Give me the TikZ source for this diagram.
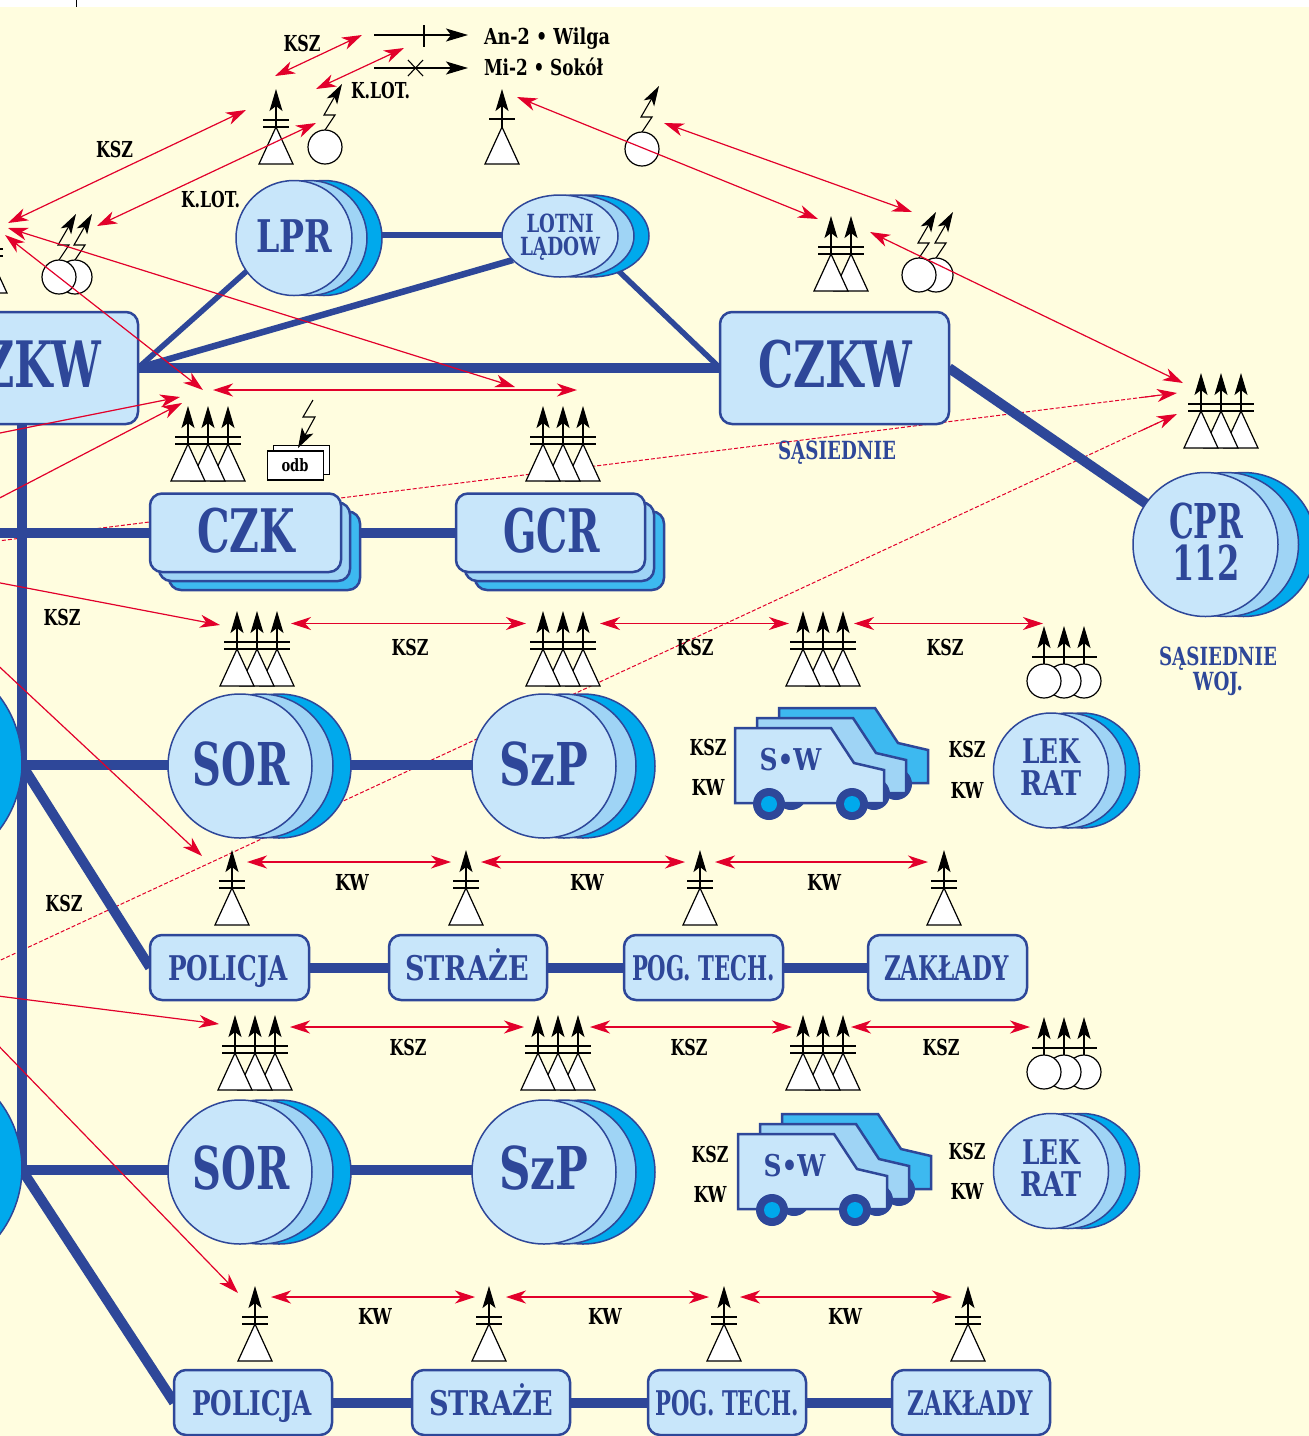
\documentclass[tikz,border=0pt]{standalone}
\usepackage{fontspec}
\usepackage{graphicx}
\usetikzlibrary{arrows.meta,shapes.geometric,calc}
\newfontfamily\slab{DejaVu Serif}
\definecolor{paper}{HTML}{FFFDDF}
\definecolor{navy}{HTML}{2E4799}
\definecolor{paleb}{HTML}{C8E6FA}
\definecolor{midb}{HTML}{9FD4F5}
\definecolor{deepb}{HTML}{00A9EC}
\definecolor{cardb}{HTML}{3DB9F0}
\definecolor{redl}{HTML}{E2002B}
\pgfdeclarelayer{back}\pgfdeclarelayer{links}
\pgfsetlayers{back,links,main}
\tikzset{
  link/.style={draw=navy,line width=10pt},
  linkthin/.style={draw=navy,line width=5.5pt},
  rtwo/.style={draw=redl,line width=1.2pt,{Stealth[length=20pt,width=13pt,inset=6pt]}-{Stealth[length=20pt,width=13pt,inset=6pt]}},
  rone/.style={draw=redl,line width=1.2pt,-{Stealth[length=20pt,width=13pt,inset=6pt]}},
  rdash/.style={draw=redl,line width=1pt,dash pattern=on 4pt off 2pt},
  rtip/.style={draw=redl,line width=1.1pt,-{Stealth[length=20pt,width=13pt,inset=6pt]}},
  sym/.style={draw=black,fill=white,line width=1.2pt,line join=miter},
  mast/.style={draw=black,line width=1.1pt,-{Stealth[length=22pt,width=13pt,inset=5pt]}},
  bar/.style={draw=black,line width=1.1pt},
  discfront/.style={ellipse,draw=navy,fill=paleb,line width=1.5pt,inner sep=0,outer sep=0},
  boxfront/.style={rectangle,draw=navy,fill=paleb,line width=2.5pt,rounded corners=12pt,inner sep=0,outer sep=0},
  lbl/.style={inner sep=0,outer sep=0,anchor=base},
}
% name, colour, x, baseline, size, width, text
\newcommand{\lab}[7]{\node[lbl,text=#2] (#1) at (#3,#4) {\resizebox{#6pt}{\height}{\fontsize{#5pt}{#5pt}\selectfont\slab\bfseries #7}};}
% name cx cy rx ry d1 d2
\newcommand{\disc}[7]{%
  \draw[draw=navy,fill=deepb,line width=1.5pt] (#2+#7,#3) ellipse [x radius=#4,y radius=#5];
  \draw[draw=navy,fill=midb,line width=1.5pt] (#2+#6,#3) ellipse [x radius=#4,y radius=#5];
  \node[discfront,minimum width={2*#4*1pt},minimum height={2*#5*1pt}] (#1) at (#2,#3) {};}
% name x1 y1 x2 y2
\newcommand{\rbox}[5]{\node[boxfront,minimum width={(#4-#2)*1pt},minimum height={(#5-#3)*1pt}] (#1) at ({(#2+#4)/2},{(#3+#5)/2}) {};}
\newcommand{\card}[5]{%
  \draw[draw=navy,fill=cardb,line width=2.5pt,rounded corners=12pt] (#2+19,#3+18) rectangle (#4+19,#5+18);
  \draw[draw=navy,fill=midb,line width=2.5pt,rounded corners=12pt] (#2+9,#3+9) rectangle (#4+9,#5+9);
  \rbox{#1}{#2}{#3}{#4}{#5}}
\newcommand{\tower}[2]{%
  \draw[sym] (#1-17,#2+75) -- (#1,#2+38) -- (#1+17,#2+75) -- cycle;
  \draw[mast] (#1,#2+38) -- (#1,#2);}
\newcommand{\bars}[3]{\draw[bar] (#1-13,#3+31) -- (#2+13,#3+31); \draw[bar] (#1-13,#3+38) -- (#2+13,#3+38);}
\newcommand{\towerA}[2]{\tower{#1}{#2}\bars{#1}{#1}{#2}}
\newcommand{\towerB}[2]{\tower{#1}{#2}\draw[bar] (#1-13,#2+30) -- (#1+13,#2+30);}
\newcommand{\towerC}[2]{\tower{#1+40}{#2}\tower{#1+20}{#2}\tower{#1}{#2}\bars{#1}{#1+40}{#2}}
\newcommand{\ball}[2]{%
  \draw[sym] (#1,#2+55) circle [radius=17];
  \draw[mast] (#1,#2+38) -- (#1,#2);}
\newcommand{\ballC}[2]{\ball{#1+40}{#2}\ball{#1+20}{#2}\ball{#1}{#2}\draw[bar] (#1-12,#2+31) -- (#1+53,#2+31);}
\newcommand{\bolt}[2]{%
  \draw[sym] (#1,#2) ellipse [x radius=17,y radius=17];
  \draw[draw=black,line width=1.1pt,-{Stealth[length=20pt,width=12pt,inset=5pt]}] (#1,#2-17) -- (#1+10,#2-32) -- (#1-1,#2-32) -- (#1+17,#2-63);}
\newcommand{\trucklayer}[3]{%
  \draw[draw=navy,fill=#3,line width=2.5pt,line join=miter] (#1+735,#2+728) -- (#1+831,#2+728) -- (#1+854,#2+763) -- (#1+884,#2+770) -- (#1+884,#2+803) -- (#1+735,#2+803) -- cycle;}
\newcommand{\truckwheels}[2]{%
  \fill[navy] (#1+769,#2+804) circle [radius=16];
  \fill[navy] (#1+852,#2+804) circle [radius=16];}
\newcommand{\truck}[2]{%
  \trucklayer{#1+44}{#2-20}{cardb}\truckwheels{#1+44}{#2-20}
  \trucklayer{#1+22}{#2-10}{midb}\truckwheels{#1+22}{#2-10}
  \trucklayer{#1}{#2}{paleb}\truckwheels{#1}{#2}
  \fill[deepb] (#1+769,#2+804) circle [radius=8];
  \fill[deepb] (#1+852,#2+804) circle [radius=8];}
% two-headed red arrow between named ends
\newcommand{\RA}[5]{\coordinate (#1a) at (#2,#3); \coordinate (#1b) at (#4,#5); \draw[rtwo] (#1a) -- (#1b);}
\newcommand{\RO}[5]{\coordinate (#1a) at (#2,#3); \coordinate (#1b) at (#4,#5); \draw[rone] (#1a) -- (#1b);}
\begin{document}
\begin{tikzpicture}[x=1pt,y=-1pt]
\useasboundingbox (0,0) rectangle (1309,1436);
\begin{pgfonlayer}{back}
  \fill[white] (0,0) rectangle (1309,1436);
  \fill[paper] (0,7) rectangle (1309,1436);
  \draw[black,line width=1pt] (76,0) -- (76,7);
\end{pgfonlayer}
\clip (0,0) rectangle (1309,1436);

% ---------- hubs
\node[discfront,fill=deepb,minimum width=220pt,minimum height=220pt] (hubA) at (-88,763) {};
\node[discfront,fill=deepb,minimum width=220pt,minimum height=220pt] (hubB) at (-88,1168) {};
\disc{lpr}{294}{238}{58}{57.5}{15}{30}
\disc{lotni}{560}{236}{58}{41}{16}{31}
\disc{cpr}{1205.5}{544.5}{72.5}{72}{20.5}{38}
\disc{sorA}{240}{766}{72}{72}{21}{39}
\disc{szpA}{544}{766}{72}{72}{20}{39}
\disc{lekA}{1051}{770.5}{57.5}{57.5}{17}{31}
\disc{sorB}{240}{1172}{72}{72}{21}{39}
\disc{szpB}{544}{1172}{72}{72}{20}{39}
\disc{lekB}{1051}{1171}{57.5}{57.5}{17}{31}
\rbox{czkwL}{-94}{312}{138}{424}
\rbox{czkwR}{720}{312}{949}{424}
\card{czk}{150}{493.5}{341}{572}
\card{gcr}{456}{493.5}{645}{572}
\rbox{polA}{150}{935}{309}{1000}
\rbox{strA}{389}{935}{547}{1000}
\rbox{pogA}{624}{935}{783}{1000}
\rbox{zakA}{868}{935}{1027}{1000}
\rbox{polB}{174}{1370}{332}{1435}
\rbox{strB}{412}{1370}{570}{1435}
\rbox{pogB}{648}{1370}{806}{1435}
\rbox{zakB}{892}{1370}{1050}{1435}

% ---------- links, under the nodes
\begin{pgfonlayer}{links}
  \coordinate (dashAs) at (-10,542); \coordinate (dashAe) at (1177,393);
  \coordinate (dashBs) at (-10,965); \coordinate (dashBe) at (1177,414);
  \draw[rdash] (dashAs) -- ($(dashAs)!0.985!(dashAe)$);
  \draw[rdash] (dashBs) -- ($(dashBs)!0.985!(dashBe)$);
  \coordinate (jA) at (22,765); \coordinate (jB) at (22,1170); \coordinate (lft) at (-10,533); \coordinate (jT) at (294,235);
  \draw[link] (czkwL.south) -- (jB);
  \draw[link] (jA) -- (jA -| sorA);
  \draw[link] (jA -| sorA) -- (jA -| szpA);
  \draw[link] (jB) -- (jB -| sorB);
  \draw[link] (jB -| sorB) -- (jB -| szpB);
  \draw[link] (jA) -- (polA.west);
  \draw[link] (jB) -- (polB.west);
  \draw[link] (lft) -- (lft -| czk);
  \draw[link] (lft -| czk) -- (lft -| gcr);
  \draw[link] (czkwL.east) -- (czkwR.west);
  \draw[link] (czkwR.east) -- (cpr);
  \draw[link] (polA) -- (strA); \draw[link] (strA) -- (pogA); \draw[link] (pogA) -- (zakA);
  \draw[link] (polB) -- (strB); \draw[link] (strB) -- (pogB); \draw[link] (pogB) -- (zakB);
  \draw[linkthin] (jT) -- (jT -| lotni);
  \draw[linkthin] (lpr.215) -- (czkwL.east);
  \draw[linkthin,line width=6.5pt] (lotni.207) -- (czkwL.east);
  \draw[linkthin] (lotni.-27) -- (czkwR.west);
\end{pgfonlayer}

% ---------- symbols
\towerA{-10}{218}
\towerA{276}{89}
\towerB{502}{89}
\bolt{325}{147}
\bolt{642}{149}
\bolt{75}{277}\bolt{59}{277}
\bolt{936}{275}\bolt{919}{275}
\tower{851}{216}\tower{831}{216}\bars{831}{851}{216}
\towerC{1201}{373}
\towerC{188}{406}
\towerC{543}{406}
\towerC{237}{611}
\towerC{543}{611}
\towerC{803}{611}
\ballC{1044}{626}
\towerC{235}{1015}
\towerC{538}{1015}
\towerC{803}{1015}
\ballC{1044}{1017}
\towerA{232}{850}\towerA{466}{850}\towerA{700}{850}\towerA{944}{850}
\towerA{255}{1286}\towerA{489}{1286}\towerA{724}{1286}\towerA{968}{1286}

% odb
\draw[draw=black,fill=white,line width=1pt] (273.5,445) rectangle (329,474);
\node[rectangle,draw=black,fill=white,line width=1.2pt,inner sep=0,minimum width=56pt,minimum height=29pt] (odbbox) at (295.5,465.5) {};
\lab{odb}{black}{295}{471}{17}{27}{odb}
\draw[draw=black,line width=1.1pt,-{Stealth[length=20pt,width=13pt,inset=5pt]}] (313,400) -- (303,417) -- (315,417) -- (298,448);

% trucks
\truck{0}{0}
\truck{3}{406}

% legend
\coordinate (lgA) at (374,35); \coordinate (lgAe) at (468,35);
\coordinate (lgB) at (374,68); \coordinate (lgBe) at (468,68);
\draw[draw=black,line width=1.1pt,-{Stealth[length=22pt,width=13pt,inset=5pt]}] (lgA) -- (lgAe);
\draw[draw=black,line width=1.1pt,-{Stealth[length=22pt,width=13pt,inset=5pt]}] (lgB) -- (lgBe);
\draw[bar] (424,25) -- (424,47);
\draw[bar] (408,60) -- (423,76);
\draw[bar] (408,76) -- (423,60);

% ---------- red arrows on top
\RA{a1}{275}{76}{362}{35}
\RA{a2}{316}{89}{404}{48}
\RA{a3}{8}{223}{246}{110}
\RA{a4}{97}{226}{316}{123}
\RA{a5}{517}{97}{818}{219}
\RA{a6}{664}{123}{912}{212}
\RA{a7}{870}{232}{1183}{383}
\RA{a8}{8}{228}{515}{387}
\RA{a9}{5}{235}{203}{390}
\RA{a10}{213}{390}{577}{390}
\RO{a11}{-10}{435}{180}{397}
\RO{a12}{-10}{503}{182}{403}
\RO{a13}{-10}{581}{220}{625}
\RO{a14}{-10}{658}{202}{856}
\RO{a15}{-10}{995}{219}{1024}
\RO{a16}{-10}{1037}{238}{1293}
\RA{b1}{291}{623.5}{526}{623.5}
\RA{b2}{600}{623.5}{789}{623.5}
\RA{b3}{854}{623.5}{1043}{623.5}
\RA{c1}{247}{862}{451}{862}
\RA{c2}{481}{862}{685}{862}
\RA{c3}{715}{862}{928}{862}
\RA{d1}{290}{1027}{524}{1027}
\RA{d2}{590}{1027}{792}{1027}
\RA{d3}{851}{1027}{1030}{1027}
\RA{e1}{271}{1297}{475}{1297}
\RA{e2}{506}{1297}{709}{1297}
\RA{e3}{740}{1297}{952}{1297}
\draw[rtip] ($(dashAs)!0.97!(dashAe)$) -- (dashAe);
\draw[rtip] ($(dashBs)!0.97!(dashBe)$) -- (dashBe);

% ---------- node texts
\lab{tLpr}{navy}{294.5}{252}{45}{76}{LPR}
\lab{tLot}{navy}{560}{232}{25}{67}{LOTNI}
\lab{tLad}{navy}{560}{255}{25}{80}{LĄDOW}
\lab{tCzL}{navy}{24}{387}{64}{154}{CZKW}
\lab{tCzR}{navy}{835}{387}{64}{154}{CZKW}
\lab{tCzk}{navy}{246}{552}{60}{98}{CZK}
\lab{tGcr}{navy}{551.5}{552}{60}{97}{GCR}
\lab{tCpr}{navy}{1206}{538}{48}{74}{CPR}
\lab{t112}{navy}{1206}{580}{48}{67}{112}
\lab{tSorA}{navy}{241}{785}{59}{97}{SOR}
\lab{tSzpA}{navy}{544}{785}{59}{89}{SzP}
\lab{tSorB}{navy}{241}{1189}{59}{97}{SOR}
\lab{tSzpB}{navy}{544}{1189}{59}{89}{SzP}
\lab{tSwA}{navy}{790.5}{770}{30}{62}{S•W}
\lab{tSwB}{navy}{794.5}{1176}{30}{62}{S•W}
\lab{tLekA}{navy}{1051}{763}{34}{58}{LEK}
\lab{tRatA}{navy}{1051}{795}{34}{62}{RAT}
\lab{tLekB}{navy}{1051}{1164}{34}{58}{LEK}
\lab{tRatB}{navy}{1051}{1196}{34}{62}{RAT}
\lab{tPolA}{navy}{228}{980}{34}{120}{POLICJA}
\lab{tStrA}{navy}{467}{980}{34}{124}{STRAŻE}
\lab{tPogA}{navy}{703.5}{980}{34}{143}{POG. TECH.}
\lab{tZakA}{navy}{946.5}{980}{34}{125}{ZAKŁADY}
\lab{tPolB}{navy}{252}{1415}{34}{120}{POLICJA}
\lab{tStrB}{navy}{491}{1415}{34}{124}{STRAŻE}
\lab{tPogB}{navy}{727}{1415}{34}{143}{POG. TECH.}
\lab{tZakB}{navy}{970}{1415}{34}{125}{ZAKŁADY}
\lab{tSas}{navy}{837}{459}{25}{118}{SĄSIEDNIE}
\lab{tSasB}{navy}{1218}{665}{25}{118}{SĄSIEDNIE}
\lab{tWoj}{navy}{1218}{690}{25}{50}{WOJ.}

% ---------- black labels
\lab{k1}{black}{302}{51}{22}{37}{KSZ}
\lab{k2}{black}{114.5}{157}{22}{37}{KSZ}
\lab{k3}{black}{380.5}{98}{22}{59}{K.LOT.}
\lab{k4}{black}{210.5}{207}{22}{59}{K.LOT.}
\lab{lA}{black}{547}{44}{22}{126}{An-2 • Wilga}
\lab{lB}{black}{543.5}{75}{22}{119}{Mi-2 • Sokół}
\lab{k5}{black}{62}{625}{22}{37}{KSZ}
\lab{k6}{black}{410}{655}{22}{37}{KSZ}
\lab{k7}{black}{695}{655}{22}{37}{KSZ}
\lab{k8}{black}{945}{655}{22}{37}{KSZ}
\lab{k9}{black}{708}{755}{22}{37}{KSZ}
\lab{k10}{black}{708}{795}{22}{33}{KW}
\lab{k11}{black}{967}{757}{22}{37}{KSZ}
\lab{k12}{black}{967}{798}{22}{33}{KW}
\lab{k13}{black}{352}{890}{22}{34}{KW}
\lab{k14}{black}{587}{890}{22}{34}{KW}
\lab{k15}{black}{824}{890}{22}{34}{KW}
\lab{k16}{black}{64}{911}{22}{37}{KSZ}
\lab{k17}{black}{408}{1055}{22}{37}{KSZ}
\lab{k18}{black}{689}{1055}{22}{37}{KSZ}
\lab{k19}{black}{941}{1055}{22}{37}{KSZ}
\lab{k20}{black}{710}{1162}{22}{37}{KSZ}
\lab{k21}{black}{710}{1202}{22}{33}{KW}
\lab{k22}{black}{967}{1159}{22}{37}{KSZ}
\lab{k23}{black}{967}{1199}{22}{33}{KW}
\lab{k24}{black}{375}{1324}{22}{34}{KW}
\lab{k25}{black}{605}{1324}{22}{34}{KW}
\lab{k26}{black}{845}{1324}{22}{34}{KW}
\end{tikzpicture}
\end{document}
